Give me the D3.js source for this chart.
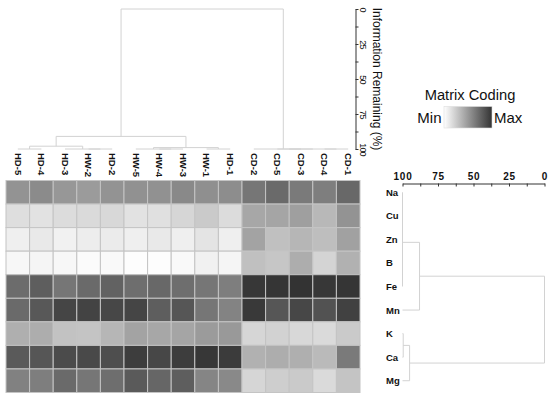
<!DOCTYPE html>
<html>
<head>
<meta charset="utf-8">
<script src="https://cdn.jsdelivr.net/npm/d3@7"></script>
<style>
  body { margin: 0; background: #fff; }
  svg { display: block; }
  text { font-family: "Liberation Sans", Arial, sans-serif; fill: #111; }
</style>
</head>
<body>
<div id="chart"></div>
<script>
// columns (samples) and rows (elements) in the order shown
const samples = ["HD-5", "HD-4", "HD-3", "HW-2", "HD-2", "HW-5", "HW-4", "HW-3", "HW-1", "HD-1", "CD-2", "CD-5", "CD-3", "CD-4", "CD-1"];
const elements = ["Na", "Cu", "Zn", "B", "Fe", "Mn", "K", "Ca", "Mg"];

// matrix coding, 0 = min, 100 = max, one value per sample
const na = [53, 57, 51, 49, 53, 54, 54, 58, 55, 56, 67, 73, 65, 63, 74];
const cu = [16, 14, 17, 18, 19, 14, 15, 20, 26, 17, 43, 44, 47, 35, 53];
const zn = [8, 11, 7, 9, 10, 8, 11, 8, 13, 8, 45, 31, 36, 32, 46];
const b = [4, 5, 4, 2, 3, 1, 1, 3, 7, 5, 31, 28, 40, 21, 38];
const fe = [72, 79, 67, 73, 77, 71, 74, 71, 67, 63, 98, 99, 100, 98, 99];
const mn = [73, 82, 91, 92, 90, 91, 79, 83, 67, 61, 97, 83, 90, 85, 93];
const k = [39, 40, 30, 29, 36, 45, 43, 44, 49, 50, 20, 22, 19, 18, 26];
const ca = [81, 83, 88, 89, 87, 95, 90, 95, 98, 96, 38, 40, 39, 34, 65];
const mg = [62, 63, 73, 67, 71, 81, 75, 79, 60, 58, 20, 24, 26, 18, 29];
const rows = [na, cu, zn, b, fe, mn, k, ca, mg];

// dendrograms: [information remaining (%), child, child]
const sampleTree = [0,
    [91, [98, [100, "HD-5", "HD-4"], [100, "HD-3", [100, "HW-2", "HD-2"]]],
         [99, [100, "HW-5", [100, "HW-4", "HW-3"]], [100, "HW-1", "HD-1"]]],
    [100, "CD-2", [100, [100, "CD-5", "CD-3"], [100, "CD-4", "CD-1"]]]];
const elementTree = [0,
    [88, [100, [100, "Na", [100, "Cu", "Zn"]], [100, "B", "Fe"]], "Mn"],
    [95, [99.5, "K", "Ca"], "Mg"]];

const remainingTicks = [0, 12.5, 25, 37.5, 50, 62.5, 75, 87.5, 100];

const W = 550, H = 398;
const lineColor = "#d2d2d2";

const svg = d3.select("#chart").append("svg")
    .attr("width", W)
    .attr("height", H);

// scales
const x = d3.scaleBand().domain(samples).range([6, 360]);
const y = d3.scaleBand().domain(elements).range([180.5, 392.5]);
const color = d3.scaleLinear().domain([0, 100]).range(["#ffffff", "#333333"]);
const topLevel = d3.scaleLinear().domain([0, 100]).range([9, 149]);
const rightLevel = d3.scaleLinear().domain([100, 0]).range([402.5, 544.5]);

// heatmap cells
const cells = [];
rows.forEach((r, i) => r.forEach((v, j) => cells.push({ el: elements[i], s: samples[j], v: v })));

svg.append("g")
    .selectAll("rect")
    .data(cells)
    .join("rect")
    .attr("x", d => x(d.s))
    .attr("y", d => y(d.el))
    .attr("width", x.bandwidth())
    .attr("height", y.bandwidth())
    .attr("fill", d => color(d.v))
    .attr("stroke", "#c4c4c4")
    .attr("stroke-width", 1);

// column labels, read top to bottom
svg.append("g")
    .selectAll("text")
    .data(samples)
    .join("text")
    .attr("transform", d => `translate(${x(d) + x.bandwidth() / 2 - 3.3},153) rotate(90)`)
    .style("font-size", "9.5px")
    .style("font-weight", "bold")
    .text(d => d);

// row labels
svg.append("g")
    .selectAll("text")
    .data(elements)
    .join("text")
    .attr("x", 386)
    .attr("y", d => y(d) + y.bandwidth() / 2 + 3.5)
    .style("font-size", "9.5px")
    .style("font-weight", "bold")
    .text(d => d);

// generic dendrogram drawer, pt(position, level) -> [sx, sy]
function drawTree(node, g, leafPos, pt) {
    if (typeof node === "string") return { p: leafPos(node), h: 100 };
    const a = drawTree(node[1], g, leafPos, pt);
    const c = drawTree(node[2], g, leafPos, pt);
    const h = node[0];
    const path = d3.path();
    path.moveTo(...pt(a.p, a.h));
    path.lineTo(...pt(a.p, h));
    path.lineTo(...pt(c.p, h));
    path.lineTo(...pt(c.p, c.h));
    g.append("path")
        .attr("d", path.toString())
        .attr("fill", "none")
        .attr("stroke", lineColor)
        .attr("stroke-width", 1);
    return { p: (a.p + c.p) / 2, h: h };
}

// top dendrogram (samples)
const topG = svg.append("g");
drawTree(sampleTree, topG, s => x(s) + x.bandwidth() / 2, (p, h) => [p, topLevel(h)]);

// right dendrogram (elements)
const rightG = svg.append("g");
drawTree(elementTree, rightG, e => y(e) + y.bandwidth() / 2, (p, h) => [rightLevel(h), p]);

// top axis: information remaining
const topAxis = svg.append("g")
    .attr("transform", "translate(355.5,0)")
    .call(d3.axisRight(topLevel)
        .tickValues(remainingTicks)
        .tickSizeInner(3)
        .tickSizeOuter(0)
        .tickFormat(d => d % 25 === 0 ? d : ""));
topAxis.select(".domain").attr("stroke", "#333");
topAxis.selectAll(".tick line").attr("stroke", "#333");
topAxis.selectAll(".tick text")
    .attr("x", 0)
    .attr("y", -4.5)
    .attr("dy", null)
    .attr("text-anchor", "middle")
    .attr("transform", "rotate(90)")
    .style("font-size", "9px")
    .style("letter-spacing", "-0.8px")
    .attr("fill", "#111")
    .style("font-family", "\"Liberation Sans\", Arial, sans-serif");

svg.append("text")
    .attr("transform", "translate(372.5,79) rotate(90)")
    .attr("text-anchor", "middle")
    .style("font-size", "12px")
    .text("Information Remaining (%)");

// right axis on top of the element dendrogram
const rightAxis = svg.append("g")
    .attr("transform", "translate(0,183.5)")
    .call(d3.axisTop(rightLevel)
        .tickValues(remainingTicks)
        .tickSizeInner(-3)
        .tickSizeOuter(0)
        .tickPadding(4)
        .tickFormat(d => d % 25 === 0 ? d : ""));
rightAxis.select(".domain").attr("stroke", "#333");
rightAxis.selectAll(".tick line").attr("stroke", "#333");
rightAxis.selectAll(".tick text")
    .attr("fill", "#111")
    .style("font-size", "10px")
    .style("font-weight", "bold")
    .style("letter-spacing", "0.8px")
    .style("font-family", "\"Liberation Sans\", Arial, sans-serif");

// legend
const grad = svg.append("defs").append("linearGradient")
    .attr("id", "coding")
    .attr("x1", "0%").attr("x2", "100%");
grad.append("stop").attr("offset", "0%").attr("stop-color", color(0));
grad.append("stop").attr("offset", "100%").attr("stop-color", color(100));

svg.append("text")
    .attr("x", 470)
    .attr("y", 99.5)
    .attr("text-anchor", "middle")
    .style("font-size", "14.7px")
    .text("Matrix Coding");

svg.append("rect")
    .attr("x", 444)
    .attr("y", 106.5)
    .attr("width", 48)
    .attr("height", 21.5)
    .attr("fill", "url(#coding)")
    .attr("stroke", "#ddd")
    .attr("stroke-width", 0.6);

svg.append("text")
    .attr("x", 441.5)
    .attr("y", 123)
    .attr("text-anchor", "end")
    .style("font-size", "15px")
    .text("Min");

svg.append("text")
    .attr("x", 494)
    .attr("y", 123)
    .style("font-size", "15px")
    .text("Max");
</script>
</body>
</html>
